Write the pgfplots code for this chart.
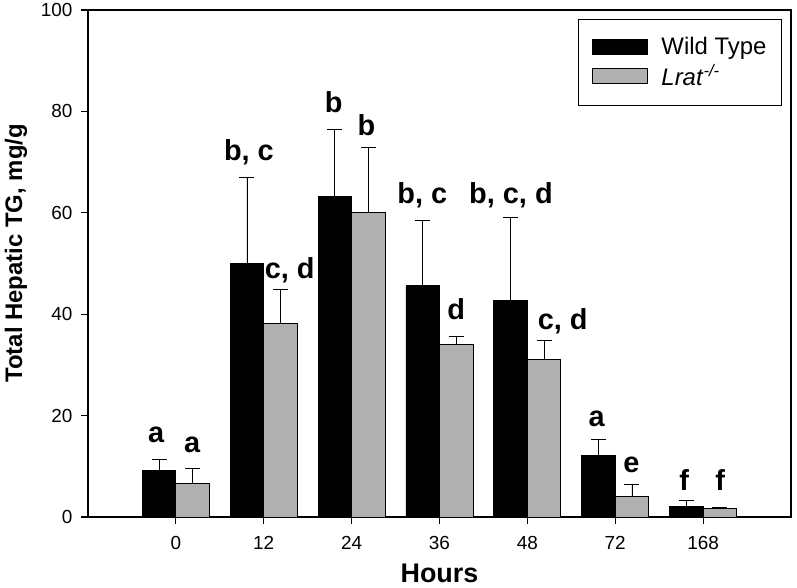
\documentclass[border=0pt]{standalone}
\usepackage{pgfplots}
\pgfplotsset{compat=1.18}
\usepackage{fontspec}
\setmainfont{Liberation Sans}
\definecolor{lratgray}{RGB}{176,176,176}
\begin{document}
\begin{tikzpicture}
\useasboundingbox (-88bp,-71bp) rectangle (709bp,517bp);
\begin{axis}[
  at={(0,0)}, anchor=south west,
  scale only axis, width=703bp, height=507bp,
  xmin=-1, xmax=7, ymin=0, ymax=100,
  xtick={0,...,6}, xticklabels={0,12,24,36,48,72,168},
  ytick={0,20,...,100},
  tick pos=left, tick align=outside, major tick length=7bp,
  axis line style={line width=1.1bp},
  tick style={line width=1.1bp, black},
  /pgf/number format/assume math mode=true,
  ticklabel style={font=\fontsize{19}{21}\selectfont},
  yticklabel style={xshift=-5bp},
  xticklabel style={yshift=-9bp},
  xlabel={\bfseries Hours},
  ylabel={\bfseries Total Hepatic TG, mg/g},
  every axis x label/.style={at={(axis description cs:0.5,0)}, anchor=center, yshift=-56bp, font=\fontsize{27}{30}\selectfont},
  every axis y label/.style={at={(axis description cs:0,0.52)}, anchor=center, rotate=90, yshift=72bp, font=\fontsize{24}{28}\selectfont},
  ybar, bar width=33.5bp,
  legend image code/.code={\draw[#1, line width=0.8bp] (0bp,-7.5bp) rectangle (55bp,7.5bp);},
  legend style={at={(0.987,0.982)}, anchor=north east, draw=black, line width=0.8bp,
    font=\fontsize{24}{28}\selectfont, inner xsep=13bp, inner ysep=16bp, row sep=4bp,
    nodes={inner sep=2bp}, /tikz/every odd column/.append style={column sep=12bp}},
  legend cell align=left,
]
\addplot[fill=black, draw=black, line width=0.8bp, bar shift=-16.75bp,
  error bars/.cd, y dir=plus, y explicit,
  error bar style={line width=0.9bp, black},
  error mark options={rotate=90, line width=0.9bp, mark size=7.5bp, black}]
  coordinates {
  (0,9.1) +- (0,2.3)
  (1,50.0) +- (0,16.9)
  (2,63.3) +- (0,13.2)
  (3,45.6) +- (0,12.8)
  (4,42.7) +- (0,16.3)
  (5,12.1) +- (0,3.1)
  (6,2.0) +- (0,1.2)
  };
\addplot[fill=lratgray, draw=black, line width=0.8bp, bar shift=16.75bp,
  error bars/.cd, y dir=plus, y explicit,
  error bar style={line width=0.9bp, black},
  error mark options={rotate=90, line width=0.9bp, mark size=7.5bp, black}]
  coordinates {
  (0,6.6) +- (0,3.0)
  (1,38.1) +- (0,6.7)
  (2,60.0) +- (0,12.8)
  (3,34.1) +- (0,1.6)
  (4,31.1) +- (0,3.8)
  (5,4.1) +- (0,2.3)
  (6,1.6) +- (0,0.2)
  };
\legend{Wild Type, \textit{Lrat}\textsuperscript{\textit{-/-}}}
\begin{scope}[every node/.style={font=\bfseries\fontsize{29}{30}\selectfont, anchor=base, inner sep=0pt}]
\node at (axis cs:-0.223,14.6) {a};
\node at (axis cs:0.185,12.8) {a};
\node at (axis cs:0.831,70.4) {b, c};
\node at (axis cs:1.296,47.1) {c, d};
\node at (axis cs:1.795,79.7) {b};
\node at (axis cs:2.169,75.3) {b};
\node at (axis cs:2.804,61.9) {b, c};
\node at (axis cs:3.189,38.9) {d};
\node at (axis cs:3.813,61.9) {b, c, d};
\node at (axis cs:4.402,36.9) {c, d};
\node at (axis cs:4.788,17.8) {a};
\node at (axis cs:5.185,8.7) {e};
\node at (axis cs:5.785,5.3) {f};
\node at (axis cs:6.193,5.3) {f};
\end{scope}
\end{axis}
\end{tikzpicture}
\end{document}
